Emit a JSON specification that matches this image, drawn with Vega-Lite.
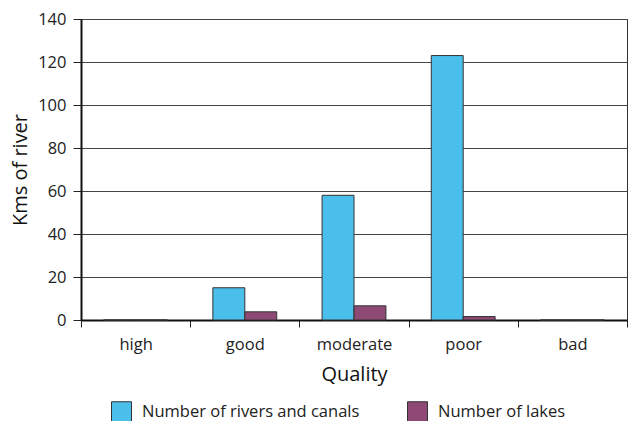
{
  "$schema": "https://vega.github.io/schema/vega-lite/v6.json",
  "width": 546,
  "height": 301,
  "autosize": {"type": "none"},
  "padding": {"left": 81, "top": 19, "right": 1, "bottom": 101},
  "background": "white",
  "config": {
    "font": "Open Sans",
    "view": {"stroke": "#333333", "strokeWidth": 1},
    "axis": {"labelFont": "Open Sans", "titleFont": "Open Sans", "labelColor": "#222", "titleColor": "#111"}
  },
  "data": {
    "values": [
      {"quality": "high", "series": "Number of rivers and canals", "value": 0},
      {"quality": "high", "series": "Number of lakes", "value": 0},
      {"quality": "good", "series": "Number of rivers and canals", "value": 15},
      {"quality": "good", "series": "Number of lakes", "value": 3.8},
      {"quality": "moderate", "series": "Number of rivers and canals", "value": 58},
      {"quality": "moderate", "series": "Number of lakes", "value": 6.6},
      {"quality": "poor", "series": "Number of rivers and canals", "value": 123},
      {"quality": "poor", "series": "Number of lakes", "value": 1.6},
      {"quality": "bad", "series": "Number of rivers and canals", "value": 0},
      {"quality": "bad", "series": "Number of lakes", "value": 0}
    ]
  },
  "mark": {"type": "bar", "stroke": "#333333", "strokeWidth": 1},
  "encoding": {
    "x": {
      "field": "quality",
      "type": "nominal",
      "sort": ["high", "good", "moderate", "poor", "bad"],
      "scale": {"paddingInner": 0, "paddingOuter": 0},
      "axis": {
        "title": "Quality",
        "titleFontSize": 20,
        "titleFontWeight": "normal",
        "titlePadding": 12,
        "labelAngle": 0,
        "labelFontSize": 16.5,
        "labelPadding": 9,
        "tickBand": "extent",
        "tickSize": 7,
        "tickColor": "#222",
        "domainColor": "#111",
        "domainWidth": 2,
        "grid": false
      }
    },
    "xOffset": {
      "field": "series",
      "type": "nominal",
      "sort": ["Number of rivers and canals", "Number of lakes"],
      "scale": {"paddingInner": 0, "paddingOuter": 0.71}
    },
    "y": {
      "field": "value",
      "type": "quantitative",
      "scale": {"domain": [0, 140], "nice": false},
      "axis": {
        "title": "Kms of river",
        "titleFontSize": 20,
        "titleFontWeight": "normal",
        "titlePadding": 7,
        "values": [0, 20, 40, 60, 80, 100, 120, 140],
        "labelFontSize": 16.5,
        "labelPadding": 7,
        "tickSize": 8,
        "tickColor": "#222",
        "domainColor": "#111",
        "domainWidth": 2,
        "grid": true,
        "gridColor": "#444",
        "gridWidth": 1,
        "gridOpacity": 1
      }
    },
    "color": {
      "field": "series",
      "type": "nominal",
      "sort": ["Number of rivers and canals", "Number of lakes"],
      "scale": {"range": ["#4BBFEC", "#8E4A74"]},
      "legend": {
        "title": null,
        "orient": "none",
        "direction": "horizontal",
        "legendX": 30,
        "legendY": 382,
        "symbolType": "square",
        "symbolSize": 400,
        "symbolStrokeColor": "#333",
        "symbolStrokeWidth": 1,
        "labelFontSize": 16.5,
        "labelFont": "Open Sans",
        "labelColor": "#222",
        "labelOffset": 10,
        "columnPadding": 45,
        "labelLimit": 400
      }
    }
  }
}
